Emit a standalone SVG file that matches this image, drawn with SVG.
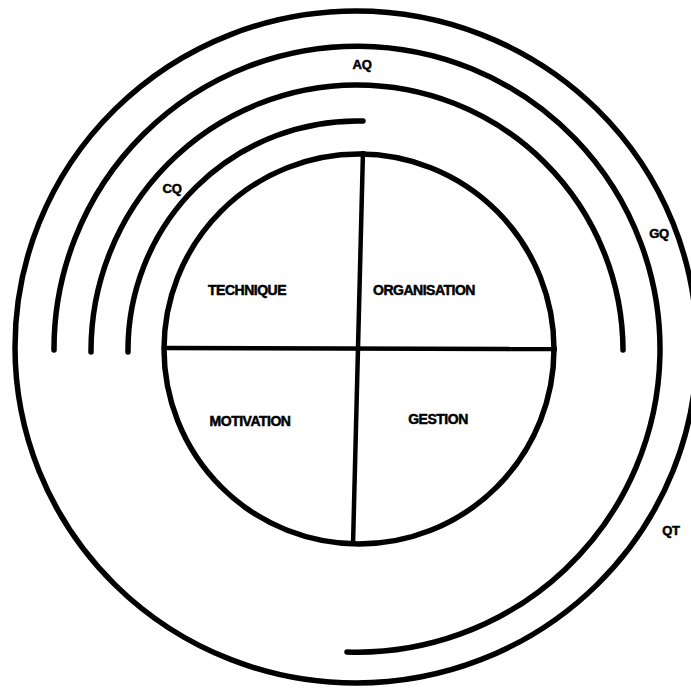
<svg xmlns="http://www.w3.org/2000/svg" width="691" height="689" viewBox="0 0 691 689">
<style>
.ring{fill:none;stroke:#000;stroke-width:5.5;stroke-linecap:round}
.axis{fill:none;stroke:#000;stroke-width:4.5;stroke-linecap:butt}
.q{font-family:"Liberation Sans",Arial,sans-serif;font-weight:bold;font-size:14px;letter-spacing:-0.5px;text-anchor:middle;fill:#000;stroke:#000;stroke-width:0.5}
.lab{font-family:"Liberation Sans",Arial,sans-serif;font-weight:bold;font-size:13px;letter-spacing:-0.3px;text-anchor:middle;fill:#000;stroke:#000;stroke-width:0.5}
</style>
<rect width="691" height="689" fill="#fff"/>
<g id="rings">
  <ellipse id="outer" class="ring" cx="356" cy="347" rx="341" ry="336"/>
  <path id="ring-aq-gq" class="ring" d="M 54 350 A 303 303 0 1 1 347 652"/>
  <path id="ring-mid" class="ring" d="M 91 352 A 266 266 0 0 1 623 350"/>
  <path id="ring-cq" class="ring" d="M 128 352 A 229 229 0 0 1 363 121"/>
</g>
<g id="core">
  <circle class="ring" cx="359" cy="349" r="195"/>
  <line class="axis" x1="164" y1="348" x2="557" y2="349"/>
  <line class="axis" x1="363" y1="151" x2="353" y2="545"/>
</g>
<g id="technique"><text class="q" x="247" y="295">TECHNIQUE</text></g>
<g id="organisation"><text class="q" x="424" y="295">ORGANISATION</text></g>
<g id="motivation"><text class="q" x="250" y="426">MOTIVATION</text></g>
<g id="gestion"><text class="q" x="438" y="424">GESTION</text></g>
<g id="labels">
  <text class="lab" x="362" y="69">AQ</text>
  <text class="lab" x="172" y="193">CQ</text>
  <text class="lab" x="659" y="238">GQ</text>
  <text class="lab" x="671" y="535">QT</text>
</g>
</svg>
